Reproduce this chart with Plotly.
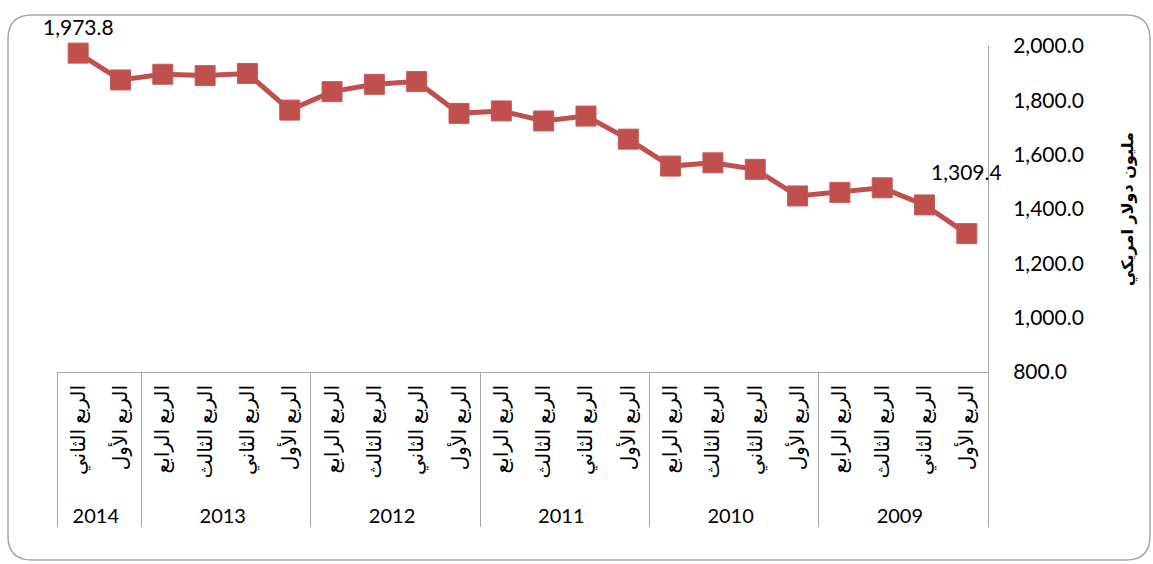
import plotly.graph_objects as go

years = ["2009"] * 4 + ["2010"] * 4 + ["2011"] * 4 + ["2012"] * 4 + ["2013"] * 4 + ["2014"] * 2
quarter_names = ["الربع الأول", "الربع الثاني", "الربع الثالث", "الربع الرابع"]
quarters = [quarter_names[i % 4] for i in range(len(years))]
values = [1309.4, 1415, 1478, 1461,
          1448, 1546, 1570, 1558,
          1657, 1742, 1724, 1761,
          1752, 1869, 1859, 1832,
          1764, 1899, 1891, 1896,
          1875, 1973.8]
labelled = {0: 62, 21: 27}  # index -> pixel lift of label
y_title = "مليون دولار امريكي"
y_ticks = [800, 1000, 1200, 1400, 1600, 1800, 2000]

RED = "#C0504D"
GREY = "#A6A6A6"
FONT = "Lato, 'DejaVu Sans', sans-serif"

W, H = 1153, 564
L, R, T, B = 57, 165, 46, 192
pw, ph = W - L - R, H - T - B
n = len(values)

# pad quarter labels so the year row sits lower, as in the original
pad = "\u00a0" * 2
quarter_ticks = [pad + q for q in quarters]

fig = go.Figure()
fig.add_trace(go.Scatter(
    x=[years, quarter_ticks], y=values, mode="lines+markers",
    line=dict(color=RED, width=5),
    marker=dict(symbol="square", size=20, color=RED,
                line=dict(color="#C65A57", width=1)),
    cliponaxis=False, hoverinfo="y", showlegend=False,
))

for i, lift in labelled.items():
    fig.add_annotation(x=i, y=values[i], xref="x", yref="y",
                       text=f"{values[i]:,.1f}", showarrow=False,
                       yshift=lift, font=dict(size=21, color="#000", family=FONT))

# rounded chart-area border (pixel -> paper)
def px(x):
    return (x - L) / pw

def py(y):
    return (H - B - y) / ph

x0, x1, y0, y1, r = 8, 1150, 15, 560, 24
path = (f"M {px(x0 + r)} {py(y0)} L {px(x1 - r)} {py(y0)} "
        f"Q {px(x1)} {py(y0)} {px(x1)} {py(y0 + r)} L {px(x1)} {py(y1 - r)} "
        f"Q {px(x1)} {py(y1)} {px(x1 - r)} {py(y1)} L {px(x0 + r)} {py(y1)} "
        f"Q {px(x0)} {py(y1)} {px(x0)} {py(y1 - r)} L {px(x0)} {py(y0 + r)} "
        f"Q {px(x0)} {py(y0)} {px(x0 + r)} {py(y0)} Z")
fig.add_shape(type="path", path=path, xref="paper", yref="paper",
              line=dict(color=GREY, width=1.5), layer="below")

fig.update_layout(
    width=W, height=H,
    margin=dict(l=L, r=R, t=T, b=B, autoexpand=False),
    paper_bgcolor="white", plot_bgcolor="white",
    font=dict(family=FONT, size=21, color="#000"),
    xaxis=dict(
        type="multicategory", range=[n - 0.5, -0.5],
        tickangle=-90, tickfont=dict(size=20),
        ticklabelstandoff=4,
        showline=True, linecolor=GREY, linewidth=1,
        showdividers=True, dividercolor=GREY, dividerwidth=1,
        ticks="", showgrid=False, zeroline=False,
    ),
    yaxis=dict(
        side="right", range=[800, 2000], tickvals=y_ticks,
        tickformat=",.1f", showline=True, linecolor=GREY, linewidth=1,
        ticks="", showgrid=False, zeroline=False,
        ticklabelstandoff=20, tickfont=dict(size=21),
        title=dict(text=y_title, font=dict(size=16, family="'DejaVu Sans'", weight="bold"),
                   standoff=38),
    ),
)

fig.write_html("out.html", config={"displayModeBar": False},
               post_script="document.body.style.margin='0';")
